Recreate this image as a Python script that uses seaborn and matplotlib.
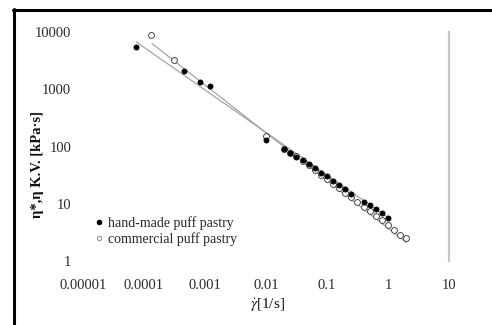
import numpy as np
import pandas as pd
import matplotlib
matplotlib.use("Agg")
import matplotlib.pyplot as plt
import seaborn as sns
from matplotlib.lines import Line2D
from matplotlib.ticker import FixedLocator, FixedFormatter, LogLocator, NullFormatter

# ---- data ----
hand_x = [7.4e-5, 4.45e-4, 8.4e-4, 1.19e-3, 0.01, 0.02, 0.0251, 0.0316, 0.0398, 0.0501,
          0.0631, 0.0794, 0.1, 0.126, 0.158, 0.2, 0.251, 0.398, 0.501, 0.631, 0.794, 1.0]
hand_y = [5400, 2080, 1330, 1120, 132, 91, 77, 66, 57, 48.6,
          42.6, 34.9, 30.4, 24.9, 21.2, 17.9, 14.8, 10.9, 9.5, 8.0, 6.8, 5.75]

comm_x = [1.3e-4, 3.07e-4, 0.01, 0.02, 0.0251, 0.0316, 0.0398, 0.0501, 0.0631, 0.0794,
          0.1, 0.126, 0.158, 0.2, 0.251, 0.316, 0.398, 0.501, 0.631, 0.794, 1.0,
          1.26, 1.58, 2.0]
comm_y = [8870, 3260, 155, 89, 78, 68, 56, 47, 39, 32,
          27, 22.4, 18.6, 15.5, 12.9, 10.7, 8.9, 7.4, 6.2, 5.1, 4.2,
          3.45, 2.9, 2.5]

# power-law fits: coefficient K, exponent n, x range
fit_hand_K, fit_hand_n, fit_hand_range = 5.75, -0.743, [7.5e-5, 1.0]
fit_comm_K, fit_comm_n, fit_comm_range = 3.73, -0.834, [1.35e-4, 2.0]

x_ticks = [1e-5, 1e-4, 1e-3, 1e-2, 1e-1, 1, 10]
x_tick_labels = ["0.00001", "0.0001", "0.001", "0.01", "0.1", "1", "10"]
y_ticks = [1, 10, 100, 1000, 10000]
y_tick_labels = ["1", "10", "100", "1000", "10000"]

legend_labels = ["hand-made puff pastry", "commercial puff pastry"]

# ---- style ----
sns.set_style("white")
plt.rcParams['font.family'] = ['Liberation Serif', 'DejaVu Serif']
plt.rcParams['mathtext.fontset'] = 'stix'

W, H = 492, 325
fig = plt.figure(figsize=(W / 100, H / 100), dpi=100)
ax = fig.add_axes([83 / W, 1 - 261 / H, (449 - 83) / W, (261 - 32) / H])
ax.set_xscale('log')
ax.set_yscale('log')
ax.set_xlim(1e-5, 10)
ax.set_ylim(1, 10000)

# fit lines
fh = pd.DataFrame({'x': fit_hand_range})
fh['y'] = fit_hand_K * fh['x'] ** fit_hand_n
fc = pd.DataFrame({'x': fit_comm_range})
fc['y'] = fit_comm_K * fc['x'] ** fit_comm_n
sns.lineplot(data=fh, x='x', y='y', color='#a0a0a0', lw=0.85, ax=ax, zorder=2)
sns.lineplot(data=fc, x='x', y='y', color='#a0a0a0', lw=0.85, ax=ax, zorder=2)

# points
sns.scatterplot(x=comm_x, y=comm_y, marker='o', s=18, facecolor='white',
                edgecolor='#444444', linewidth=0.7, ax=ax, zorder=3)
sns.scatterplot(x=hand_x, y=hand_y, marker='o', s=14, color='black',
                edgecolor='black', linewidth=0.5, ax=ax, zorder=4)

# axes styling
for side in ['left', 'bottom', 'top']:
    ax.spines[side].set_visible(False)
ax.spines['right'].set_color('#c8c8c8')
ax.spines['right'].set_linewidth(1.6)

ax.xaxis.set_major_locator(FixedLocator(x_ticks))
ax.xaxis.set_major_formatter(FixedFormatter(x_tick_labels))
ax.yaxis.set_major_locator(FixedLocator(y_ticks))
ax.yaxis.set_major_formatter(FixedFormatter(y_tick_labels))
ax.xaxis.set_minor_locator(LogLocator(base=10, subs=np.arange(2, 10)))
ax.yaxis.set_minor_locator(LogLocator(base=10, subs=np.arange(2, 10)))
ax.xaxis.set_minor_formatter(NullFormatter())
ax.yaxis.set_minor_formatter(NullFormatter())

ax.tick_params(axis='both', which='major', direction='in', length=4, width=0.8,
               color='#b0b0b0', labelsize=10.5, labelcolor='#2a2a2a')
ax.tick_params(axis='both', which='minor', direction='in', length=2.5, width=0.7,
               color='#c0c0c0')
ax.tick_params(axis='x', which='major', pad=13)
ax.tick_params(axis='y', which='major', pad=8.5)
ax.set_xlabel('')
ax.set_ylabel('')

# legend
handles = [Line2D([], [], marker='o', ls='', color='black', markersize=3.0),
           Line2D([], [], marker='o', ls='', markerfacecolor='white',
                  markeredgecolor='#777777', markersize=3.0, markeredgewidth=0.6)]
fig.legend(handles, legend_labels, loc='upper left', bbox_to_anchor=(96 / W, 1 - 216 / H),
           bbox_transform=fig.transFigure, frameon=False, fontsize=10,
           handlelength=0.5, handletextpad=0.35, labelspacing=0.18, borderpad=0,
           borderaxespad=0)

# axis labels
fig.text(38 / W, 1 - 164 / H, 'η*,η K.V. [kPa·s]', rotation=90, fontweight='bold',
         fontsize=10.5, ha='center', va='center', color='#111111')
fig.text(268 / W, 1 - 305 / H, r'$\dot{\gamma}$[1/s]', fontsize=11,
         ha='center', va='center', color='#111111')

# outer frame fragments
fig.add_artist(Line2D([14 / W, 14 / W], [0, 1 - 9 / H], transform=fig.transFigure,
                      color='black', lw=2.2))
fig.add_artist(Line2D([13 / W, 1], [1 - 10 / H, 1 - 10 / H], transform=fig.transFigure,
                      color='black', lw=2.2))

fig.savefig('out.png', dpi=100)
